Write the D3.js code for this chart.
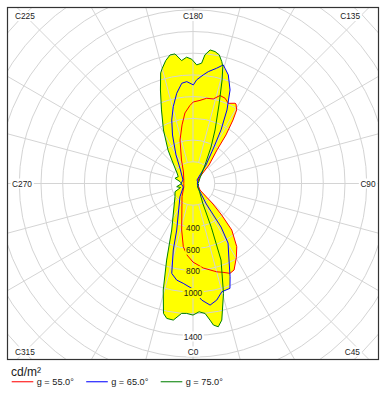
<!DOCTYPE html>
<html><head><meta charset="utf-8">
<script src="https://cdn.jsdelivr.net/npm/d3@7/dist/d3.min.js"></script>
<style>
body{margin:0;background:#fff}
svg{display:block}
text{font-family:"Liberation Sans",Arial,sans-serif}
</style>
</head><body>
<svg id="chart" width="386" height="393"></svg>
<script>
// ---- data ----
const seriesNames = ["g = 55.0°", "g = 65.0°", "g = 75.0°"];
const seriesColors = ["#ff0000", "#0000ff", "#008000"];
const unitLabel = "cd/m²";
// [C angle (deg), luminance cd/m²]
const g55 = [[0,724],[6.9,784],[15,842],[18.7,864],[22.4,895],[25.4,882],[30.4,789],[34.7,708],[39.8,558],[42.3,393],[44.3,264],[47,88],[70,50],[90,45],[110,50],[132.5,75],[139.1,225],[144.4,380],[145.8,541],[147.8,692],[149.3,788],[151.6,833],[152.4,834],[156.2,807],[159.4,839],[162.9,848],[166.5,801],[170.9,795],[175.2,768],[179.8,751],[182.2,720],[186.5,654],[190.6,549],[196.6,418],[206.1,241],[219.6,138],[250,90],[270,85],[290,90],[320.2,158],[346.3,441],[351.3,589],[355.2,661]];
const g65 = [[4.3,1077],[8,1131],[11.5,1096],[14.9,1032],[19.4,1024],[21.7,924],[25.2,779],[30.5,636],[32.8,477],[33,225],[48,62],[70,45],[90,40],[110,45],[131,49],[144.9,208],[150.1,388],[152.4,557],[155.2,746],[158.4,927],[162,1052],[164.5,1102],[165.7,1127],[168.4,1084],[172.2,1040],[174.6,1005],[178,955],[179.8,908],[183.5,940],[186.4,929],[190.2,845],[194.4,731],[198.5,617],[202.9,485],[210.8,306],[222.8,170],[250.7,98],[270,110],[290,95],[315.4,171],[340.7,454],[343.5,639],[346.7,851],[350.4,902],[354.4,924],[359.3,966]];
const g75 = [[0,1212],[2.7,1183],[5.3,1202],[7.1,1268],[8.2,1317],[10,1340],[11.9,1286],[15.5,1051],[20.1,751],[22.7,437],[26,210],[42.7,82],[60,50],[75,55],[90,45],[105,55],[128.2,82],[147,203],[153.7,375],[157.6,533],[161.7,762],[164.3,991],[165.7,1111],[166.7,1153],[168.5,1210],[170.5,1232],[172.7,1240],[174.7,1190],[175.9,1111],[178.2,1093],[180.6,1145],[182.9,1165],[185.3,1137],[187.9,1205],[190.1,1203],[192.5,1160],[194.9,1099],[196.3,1061],[199.2,912],[203.2,737],[208.9,563],[216.7,385],[224.3,264],[236.7,176],[245,150],[253.9,173],[262,120],[270,104],[281.1,153],[288,120],[294.5,182],[306.3,206],[335.4,471],[341,746],[344.4,1019],[347.2,1227],[349,1266],[351.8,1271],[355,1201],[357.2,1198]];
const seriesData = [g55, g65, g75];
const ringValues = d3.range(200, 2800, 200);
const ringLabels = [400, 600, 800, 1000, 1400];
const spokeAngles = d3.range(0, 360, 15);
const cAngles = [0, 45, 90, 135, 180, 225, 270, 315];

// ---- layout ----
const W = 386, H = 393;
const frame = {x: 7, y: 7, w: 372, h: 353};
const cx = frame.x + frame.w / 2, cy = frame.y + frame.h / 2;
const r = d3.scaleLinear().domain([0, 1400]).range([0, 152]);
const ang = d3.scaleLinear().domain([0, 360]).range([Math.PI, -Math.PI]);

const svg = d3.select("#chart");
svg.append("rect").attr("width", W).attr("height", H).attr("fill", "#fff");
svg.append("defs").append("clipPath").attr("id", "clip")
  .append("rect").attr("x", frame.x).attr("y", frame.y).attr("width", frame.w).attr("height", frame.h);

const plot = svg.append("g").attr("clip-path", "url(#clip)");
const g = plot.append("g").attr("transform", `translate(${cx},${cy})`);

const radial = d3.lineRadial()
  .angle(d => ang(d[0]))
  .radius(d => r(d[1]))
  .curve(d3.curveLinearClosed);

// yellow envelope (union of all curves)
g.selectAll("path.fill").data(seriesData).join("path")
  .attr("class", "fill").attr("d", radial)
  .attr("fill", "#ffff00").attr("stroke", "none");

// grid
const grid = g.append("g").attr("stroke", "#d4d4d4").attr("stroke-width", 1).attr("fill", "none");
grid.selectAll("circle").data(ringValues).join("circle").attr("r", d => r(d));
grid.selectAll("line").data(spokeAngles).join("line")
  .attr("x1", d => r(200) * Math.sin(ang(d))).attr("y1", d => -r(200) * Math.cos(ang(d)))
  .attr("x2", d => r(2800) * Math.sin(ang(d))).attr("y2", d => -r(2800) * Math.cos(ang(d)));

// curves
g.selectAll("path.curve").data(seriesData).join("path")
  .attr("class", "curve").attr("d", radial)
  .attr("fill", "none").attr("stroke", (d, i) => seriesColors[i]).attr("stroke-width", 1);

// ring labels
const envelopeAt0 = d3.max(seriesData, s => { const p = s.find(q => q[0] === 0); return p ? p[1] : 0; });
const rl = g.append("g");
ringLabels.forEach(v => {
  const t = rl.append("text").attr("x", 0).attr("y", r(v) + 1)
    .attr("text-anchor", "middle").attr("dominant-baseline", "central")
    .attr("font-size", 8.3).attr("fill", "#1a1a1a").text(v);
  const b = t.node().getBBox();
  rl.insert("rect", "text").attr("x", b.x - 1).attr("y", b.y).attr("width", b.width + 2).attr("height", b.height)
    .attr("fill", v < envelopeAt0 ? "#ffff00" : "#ffffff");
});

// C labels
const cl = svg.append("g");
cAngles.forEach(c => {
  const s = Math.sin(ang(c)), k = -Math.cos(ang(c));
  let x, anchor = "middle", y;
  if (Math.abs(k) < 0.01) { y = cy; x = s > 0 ? frame.x + frame.w - 11 : frame.x + 15; }
  else {
    y = k > 0 ? frame.y + frame.h - 8.5 : frame.y + 9;
    if (Math.abs(s) < 0.01) x = cx;
    else if (s > 0) { x = frame.x + frame.w - 19; anchor = "end"; }
    else { x = frame.x + 8; anchor = "start"; }
  }
  const t = cl.append("text").attr("x", x).attr("y", y).attr("text-anchor", anchor)
    .attr("dominant-baseline", "central").attr("font-size", 8.3).attr("fill", "#1a1a1a").text("C" + c);
  const b = t.node().getBBox();
  cl.insert("rect", "text").attr("x", b.x - 1.5).attr("y", b.y).attr("width", b.width + 3).attr("height", b.height).attr("fill", "#fff");
});

// frame
svg.append("rect").attr("x", frame.x + 0.5).attr("y", frame.y + 0.5)
  .attr("width", frame.w - 1).attr("height", frame.h - 1)
  .attr("fill", "none").attr("stroke", "#333", ).attr("stroke-width", 1.2);

// legend
svg.append("text").attr("x", 11).attr("y", 375.5).attr("font-size", 12).attr("fill", "#1a1a1a").text(unitLabel);
const lg = svg.append("g");
seriesNames.forEach((n, i) => {
  const x0 = 11.7 + i * 74.5;
  lg.append("line").attr("x1", x0).attr("x2", x0 + 21.6).attr("y1", 381.7).attr("y2", 381.7)
    .attr("stroke", seriesColors[i]).attr("stroke-width", 1.3).attr("stroke-opacity", 0.8);
  lg.append("text").attr("x", x0 + 25).attr("y", 384.8).attr("font-size", 9.2).attr("fill", "#1a1a1a").text(n);
});
</script>
</body></html>
